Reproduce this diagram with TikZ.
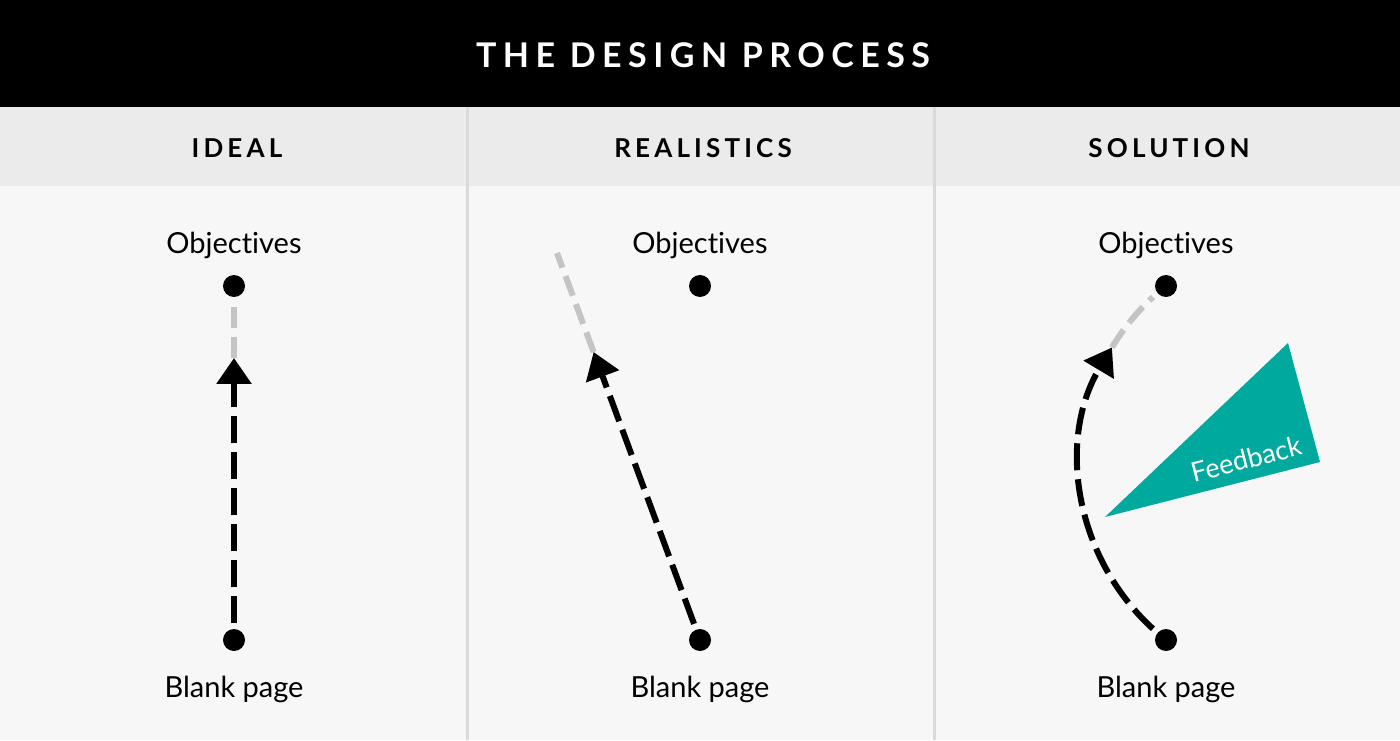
\documentclass[tikz,border=0pt]{standalone}
\usepackage{fontspec}
\setmainfont{Lato}[Ligatures={NoCommon}]
\usetikzlibrary{arrows.meta,calc}
\definecolor{band}{HTML}{000000}
\definecolor{hdr}{HTML}{EBEBEB}
\definecolor{body}{HTML}{F7F7F7}
\definecolor{divider}{HTML}{DADADA}
\definecolor{dashgray}{HTML}{C4C4C4}
\definecolor{fbteal}{HTML}{00A99D}
\begin{document}
\begin{tikzpicture}[x=1pt,y=1pt,
  dot/.style={circle,fill=black,inner sep=0pt,minimum size=22pt},
  lbl/.style={font=\fontsize{29}{31}\selectfont, text=black, inner sep=0pt},
  colhead/.style={font=\fontsize{26}{28}\selectfont\bfseries\addfontfeature{LetterSpace=16}, text=black, inner sep=0pt},
  blk/.style={line width=6pt, draw=black, dash pattern=on 27pt off 9pt, dash phase=30pt, -{Triangle[length=26pt,width=34pt]}},
  gry/.style={line width=6pt, draw=dashgray, dash pattern=on 21pt off 9pt},
]
\useasboundingbox (0,0) rectangle (1400,740);
% backgrounds
\fill[body] (0,0) rectangle (1400,554);
\fill[hdr] (0,554) rectangle (1400,633);
\fill[band] (0,633) rectangle (1400,740);
\draw[divider, line width=2.5pt] (467.5,0) -- (467.5,633);
\draw[divider, line width=2.5pt] (934.5,0) -- (934.5,633);
% title
\node[font=\fontsize{34}{36}\selectfont\bfseries\addfontfeature{LetterSpace=19}, text=white, inner sep=0pt] (title) at (703,685) {THE DESIGN PROCESS};
% column headers
\node[colhead] (h1) at (237,592) {IDEAL};
\node[colhead] (h2) at (703,592) {REALISTICS};
\node[colhead] (h3) at (1169,592) {SOLUTION};
% labels
\node[lbl] (lo1) at (234,495) {Objectives};
\node[lbl] (lo2) at (700,495) {Objectives};
\node[lbl] (lo3) at (1166,495) {Objectives};
\node[lbl] (lb1) at (234,51) {Blank page};
\node[lbl] (lb2) at (700,51) {Blank page};
\node[lbl] (lb3) at (1166,51) {Blank page};
% dots
\node[dot] (o1) at (234,454) {};
\node[dot] (o2) at (700,454) {};
\node[dot] (o3) at (1166,454) {};
\node[dot] (b1) at (234,100) {};
\node[dot] (b2) at (700,100) {};
\node[dot] (b3) at (1166,100) {};
% ideal
\coordinate (t1) at (234,382);
\draw[gry, shorten >=3pt] (t1) -- (o1);
\draw[blk] (b1) -- (t1);
% realistic
\coordinate (t2) at (593.6,388);
\coordinate (e2) at (557,487);
\draw[gry] (t2) -- (e2);
\draw[blk] (b2) -- (t2);
% solution
\coordinate (c3) at (1305,277);
\coordinate (s3) at ($(c3)+(229:225)$);
\coordinate (t3) at ($(c3)+(149.1:225)$);
\draw[gry] (t3) arc[start angle=149.1, end angle=132.5, radius=225pt];
\draw[blk] (s3) arc[start angle=229, end angle=149.1, radius=225pt];
% feedback
\fill[fbteal] (1288,397) -- (1320,278) -- (1105,223) -- cycle;
\node[font=\fontsize{27}{29}\selectfont, text=white, rotate=14.5, inner sep=0pt] (fb) at (1246,281) {Feedback};
\end{tikzpicture}
\end{document}
